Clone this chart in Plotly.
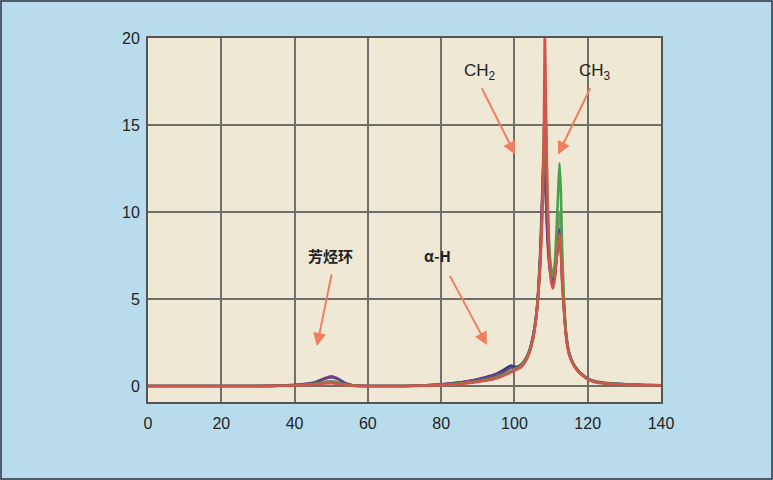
import plotly.graph_objects as go

# Chemical shift axis (shared sampling)
x_vals = [0, 10, 20, 30, 36, 40, 43, 46, 48, 50, 52, 54, 56, 60, 70, 76, 80, 84, 88, 91,
          94, 96, 98, 99, 100, 101, 102, 103, 104, 105, 106, 106.5, 107, 107.5, 108,
          108.3, 108.6, 109, 109.5, 110, 110.5, 111, 111.5, 112, 112.3, 112.7, 113, 113.5,
          114, 114.5, 115, 116, 117, 118, 120, 122, 125, 130, 135, 140]

gray_vals = [0, 0, 0, 0, 0.01, 0.04, 0.08, 0.14, 0.22, 0.28, 0.2, 0.08, 0.02, 0, 0,
             0.03, 0.06, 0.12, 0.2, 0.3, 0.42, 0.55, 0.72, 0.82, 0.92, 1.02, 1.18, 1.45, 1.9, 2.65,
             4.05, 5.25, 7.0, 9.8, 14.5, 15.5, 13.5, 10.0, 7.6, 6.4, 5.9, 6.3, 7.6, 9.5, 10.0,
             9.0, 7.0, 4.8, 3.2, 2.35, 1.85, 1.32, 1.0, 0.76, 0.44, 0.28, 0.18, 0.11, 0.06, 0.04]
navy_vals = [0, 0, 0, 0, 0.02, 0.05, 0.1, 0.22, 0.4, 0.5, 0.38, 0.14, 0.03, 0, 0,
             0.04, 0.09, 0.17, 0.3, 0.45, 0.62, 0.8, 1.05, 1.18, 1.1, 1.12, 1.25, 1.5, 1.95, 2.75,
             4.1, 5.4, 7.2, 10.0, 13.0, 12.5, 10.8, 8.6, 7.0, 6.2, 5.9, 6.3, 7.3, 8.3, 8.7,
             7.8, 6.2, 4.5, 3.1, 2.3, 1.8, 1.28, 0.96, 0.73, 0.41, 0.25, 0.16, 0.1, 0.06, 0.04]
purple_vals = [0, 0, 0, 0, 0.02, 0.06, 0.12, 0.25, 0.42, 0.55, 0.4, 0.15, 0.04, 0, 0,
               0.04, 0.1, 0.18, 0.3, 0.42, 0.58, 0.72, 0.92, 1.05, 1.05, 1.1, 1.25, 1.55, 2.0, 2.8,
               4.2, 5.5, 7.5, 10.5, 13.5, 12.8, 11.0, 8.8, 7.2, 6.3, 6.0, 6.4, 7.5, 8.6, 9.0,
               8.0, 6.4, 4.6, 3.2, 2.35, 1.85, 1.3, 0.98, 0.74, 0.42, 0.26, 0.16, 0.1, 0.06, 0.04]
green_vals = [0, 0, 0, 0, 0.01, 0.04, 0.08, 0.14, 0.2, 0.24, 0.18, 0.08, 0.02, 0, 0,
              0.03, 0.07, 0.13, 0.22, 0.32, 0.45, 0.58, 0.75, 0.85, 0.95, 1.05, 1.2, 1.5, 1.95, 2.7,
              4.1, 5.3, 7.0, 9.5, 13.0, 17.0, 15.0, 11.0, 8.0, 6.8, 6.3, 7.0, 9.0, 11.5, 12.8,
              11.0, 8.0, 5.0, 3.2, 2.3, 1.8, 1.3, 0.95, 0.72, 0.4, 0.24, 0.15, 0.09, 0.05, 0.04]
red_vals = [0, 0, 0, 0, 0.01, 0.03, 0.06, 0.1, 0.14, 0.16, 0.12, 0.06, 0.02, 0, 0,
            0.02, 0.05, 0.1, 0.18, 0.27, 0.38, 0.5, 0.68, 0.78, 0.88, 0.98, 1.12, 1.4, 1.85, 2.6,
            4.0, 5.2, 6.8, 9.0, 14.0, 20.5, 16.0, 11.0, 7.5, 6.0, 5.6, 6.1, 7.3, 8.4, 8.7,
            7.5, 6.0, 4.4, 3.0, 2.2, 1.75, 1.25, 0.92, 0.7, 0.38, 0.22, 0.14, 0.08, 0.05, 0.04]

x_ticks = [0, 20, 40, 60, 80, 100, 120, 140]
y_ticks = [0, 5, 10, 15, 20]

series = [
    ("gray", gray_vals, "#8f8c78"),
    ("navy", navy_vals, "#2d3a86"),
    ("purple", purple_vals, "#71407f"),
    ("green", green_vals, "#45a348"),
    ("red", red_vals, "#d4544c"),
]

fig = go.Figure()
for name, vals, col in series:
    fig.add_trace(go.Scatter(x=x_vals, y=vals, mode="lines", name=name,
                             line=dict(color=col, width=2.6, shape="spline", smoothing=0.4),
                             showlegend=False, hoverinfo="skip"))

arrow_col = "#ec7f5e"
labels = [
    ("CH<sub>2</sub>", 90.6, 18.04, False),
    ("CH<sub>3</sub>", 122.0, 18.04, False),
    ("<b>芳烃环</b>", 49.7, 7.5, True),
    ("<b>α-H</b>", 78.9, 7.5, True),
]
for txt, xx, yy, bold in labels:
    fig.add_annotation(x=xx, y=yy, text=txt, showarrow=False,
                       font=dict(size=17 if not bold else 15,
                                 family="Noto Sans CJK SC, Liberation Sans, Arial" if bold else "Liberation Sans, Arial",
                                 color="#222222"))

arrows = [
    (90.9, 17.2, 100.2, 13.3),
    (120.9, 17.2, 111.9, 13.3),
    (50.2, 6.5, 46.1, 2.3),
    (82.2, 6.4, 92.5, 2.35),
]
for x0, y0, x1, y1 in arrows:
    fig.add_annotation(x=x1, y=y1, ax=x0, ay=y0, xref="x", yref="y", axref="x", ayref="y",
                       text="", showarrow=True, arrowhead=2, arrowsize=1.3, arrowwidth=2,
                       arrowcolor=arrow_col)

# outer border of the picture
fig.add_shape(type="rect", xref="paper", yref="paper",
              x0=(1 - 148) / 513, x1=(772 - 148) / 513,
              y0=(402 - 479) / 364, y1=(402 - 1) / 364,
              line=dict(color="#2a3440", width=1.5), fillcolor="rgba(0,0,0,0)", layer="below")

fig.update_layout(
    width=773, height=480,
    margin=dict(l=148, r=112, t=38, b=78),
    paper_bgcolor="#b9dcec",
    plot_bgcolor="#efe8d5",
    font=dict(family="Liberation Sans, Arial", size=16, color="#222222"),
)
fig.update_xaxes(range=[0, 140], tickvals=x_ticks, ticktext=[str(v) for v in x_ticks],
                 showgrid=True, gridcolor="#6f6f6a", gridwidth=2,
                 showline=True, linecolor="#555555", linewidth=2, mirror=True,
                 zeroline=False, ticks="", ticklabelstandoff=6)
fig.update_yaxes(range=[-0.92, 20.0], tickvals=y_ticks, ticktext=[str(v) for v in y_ticks],
                 showgrid=True, gridcolor="#6f6f6a", gridwidth=2,
                 showline=True, linecolor="#555555", linewidth=2, mirror=True,
                 zeroline=False, ticks="", ticklabelstandoff=3)

fig.write_html("out.html", config={"displayModeBar": False},
               post_script="document.body.style.margin='0';document.body.style.overflow='hidden';")
